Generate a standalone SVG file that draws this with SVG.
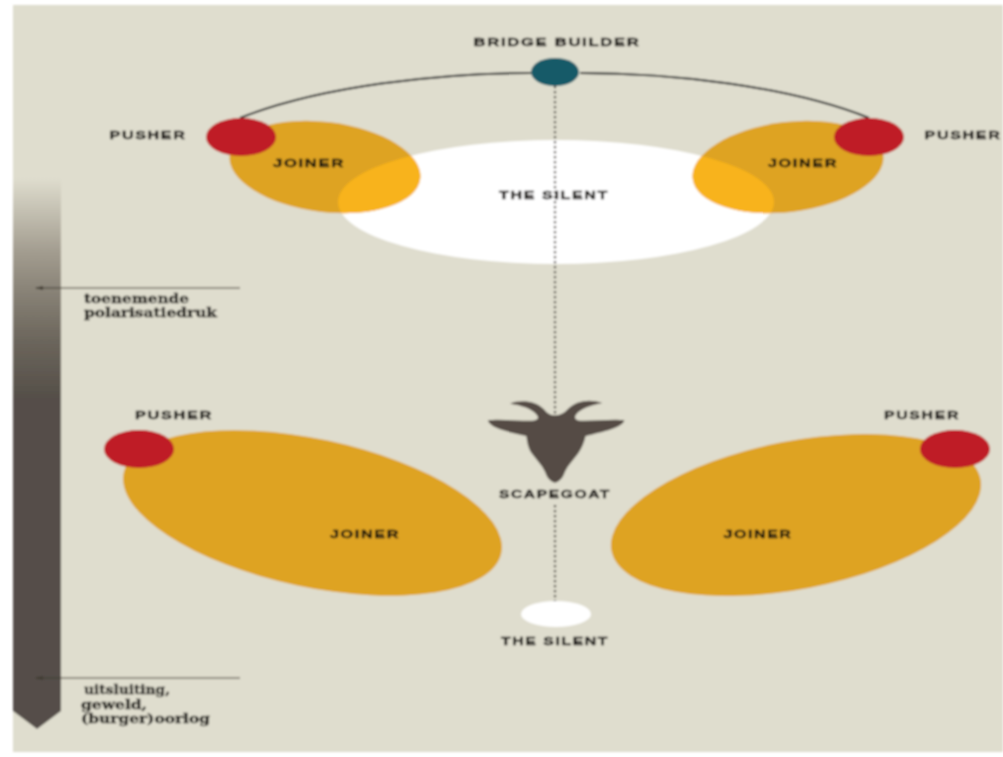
<svg xmlns="http://www.w3.org/2000/svg" width="1003" height="757" viewBox="0 0 1003 757">
<style>
.t{font-family:"Liberation Sans",Arial,sans-serif;font-weight:700;font-size:10px;letter-spacing:1px;fill:#141210;stroke:#141210;stroke-width:.35px;text-anchor:middle}
.s{font-family:"DejaVu Serif","Liberation Serif",serif;font-weight:700;font-size:12.5px;fill:#1c1a17;stroke:#1c1a17;stroke-width:.3px}
.red{fill:#bf1e25}.jo{fill:#dea321}.ov{fill:#f8b31a}.wh{fill:#fff}
.ln{stroke:#3f3a30;stroke-width:1;fill:none}
</style>
<defs>
<linearGradient id="bar" x1="0" y1="178" x2="0" y2="400" gradientUnits="userSpaceOnUse">
<stop offset="0" stop-color="#dfddce"/><stop offset=".33" stop-color="#a39d90"/><stop offset=".5" stop-color="#8a8478"/><stop offset=".73" stop-color="#6c665c"/><stop offset="1" stop-color="#544e48"/>
</linearGradient>
<filter id="soft" x="-2%" y="-2%" width="104%" height="104%"><feGaussianBlur stdDeviation="0.8"/></filter>
<clipPath id="cs"><ellipse cx="556" cy="202" rx="218" ry="62"/></clipPath>
</defs>
<rect width="1003" height="757" fill="#fff"/>
<g filter="url(#soft)">
<rect x="13" y="5" width="990" height="747" fill="#dfddce"/>
<g id="scale">
<path d="M13 178H61V711L37 729L13 711Z" fill="url(#bar)"/>
<path class="ln" d="M36 288H240M36 678H240"/>
<path d="M35 288L43 286V290ZM35 678L43 676V680Z" fill="#3f3a30"/>
<text class="s" x="84" y="303" textLength="105" lengthAdjust="spacingAndGlyphs">toenemende</text>
<text class="s" x="84" y="317" textLength="133" lengthAdjust="spacingAndGlyphs">polarisatiedruk</text>
<text class="s" x="84" y="694" textLength="86" lengthAdjust="spacingAndGlyphs">uitsluiting,</text>
<text class="s" x="81" y="709" textLength="66" lengthAdjust="spacingAndGlyphs">geweld,</text>
<text class="s" x="81" y="723" textLength="129" lengthAdjust="spacingAndGlyphs">(burger)oorlog</text>
</g>
<g id="silent-top">
<ellipse class="wh" cx="556" cy="202" rx="218" ry="62"/>
<text class="t" x="554" y="199" textLength="110" lengthAdjust="spacingAndGlyphs">THE SILENT</text>
</g>
<g id="joiner-top-left">
<ellipse class="jo" cx="325" cy="167" rx="96" ry="45" transform="rotate(7 325 167)"/>
<g clip-path="url(#cs)"><ellipse class="ov" cx="325" cy="167" rx="96" ry="45" transform="rotate(7 325 167)"/></g>
<text class="t" x="309" y="167" textLength="72" lengthAdjust="spacingAndGlyphs">JOINER</text>
</g>
<g id="joiner-top-right">
<ellipse class="jo" cx="788" cy="167" rx="96" ry="45" transform="rotate(-7 788 167)"/>
<g clip-path="url(#cs)"><ellipse class="ov" cx="788" cy="167" rx="96" ry="45" transform="rotate(-7 788 167)"/></g>
<text class="t" x="803" y="167" textLength="70" lengthAdjust="spacingAndGlyphs">JOINER</text>
</g>
<g id="connectors">
<path d="M240 118C320 86 440 73 531 73M580 73C670 73 790 86 869 118" fill="none" stroke="#15171a" stroke-width="2"/>
<path d="M555 86V415M555 505V602" fill="none" stroke="#3f3b34" stroke-width="2.2" stroke-dasharray="2.2 2.8"/>
</g>
<g id="bridge-builder">
<ellipse cx="555" cy="72" rx="24" ry="14" fill="#145a68"/>
<text class="t" x="557" y="46" textLength="167" lengthAdjust="spacingAndGlyphs">BRIDGE BUILDER</text>
</g>
<g id="pusher-top-left">
<ellipse class="red" cx="241" cy="137" rx="35" ry="19"/>
<text class="t" x="148" y="139" textLength="77" lengthAdjust="spacingAndGlyphs">PUSHER</text>
</g>
<g id="pusher-top-right">
<ellipse class="red" cx="869" cy="137" rx="35" ry="19"/>
<text class="t" x="963" y="139" textLength="77" lengthAdjust="spacingAndGlyphs">PUSHER</text>
</g>
<g id="joiner-bottom-left">
<ellipse class="jo" cx="312.5" cy="513" rx="193" ry="74" transform="rotate(12 312.5 513)"/>
<text class="t" x="365" y="538" textLength="70" lengthAdjust="spacingAndGlyphs">JOINER</text>
</g>
<g id="joiner-bottom-right">
<ellipse class="jo" cx="796" cy="515" rx="188" ry="74" transform="rotate(-11 796 515)"/>
<text class="t" x="758" y="538" textLength="69" lengthAdjust="spacingAndGlyphs">JOINER</text>
</g>
<g id="pusher-bottom-left">
<ellipse class="red" cx="139" cy="449" rx="35" ry="19"/>
<text class="t" x="174" y="419" textLength="78" lengthAdjust="spacingAndGlyphs">PUSHER</text>
</g>
<g id="pusher-bottom-right">
<ellipse class="red" cx="955" cy="449" rx="35" ry="19"/>
<text class="t" x="922" y="419" textLength="76" lengthAdjust="spacingAndGlyphs">PUSHER</text>
</g>
<g id="scapegoat">
<path fill="#544b45" transform="translate(440 380) scale(.3333)" d="M210 71C240 58 288 62 312 88C322 100 330 106 345 106C360 106 372 100 383 88C410 60 450 56 487 69C450 76 422 86 408 104C402 113 406 120 420 122C460 124 520 116 553 121C550 142 490 156 437 168C432 190 425 205 415 220C400 240 385 255 375 275C368 295 358 305 345 308C332 305 322 295 315 275C305 255 290 240 275 220C265 205 262 190 259 168C215 158 148 146 144 121C180 116 240 124 278 122C294 120 298 113 290 104C275 86 245 76 210 71Z"/>
<text class="t" x="555" y="498" textLength="112" lengthAdjust="spacingAndGlyphs">SCAPEGOAT</text>
</g>
<g id="silent-bottom">
<ellipse class="wh" cx="556" cy="614" rx="35" ry="13"/>
<text class="t" x="555" y="645" textLength="108" lengthAdjust="spacingAndGlyphs">THE SILENT</text>
</g>
</g>
</svg>
